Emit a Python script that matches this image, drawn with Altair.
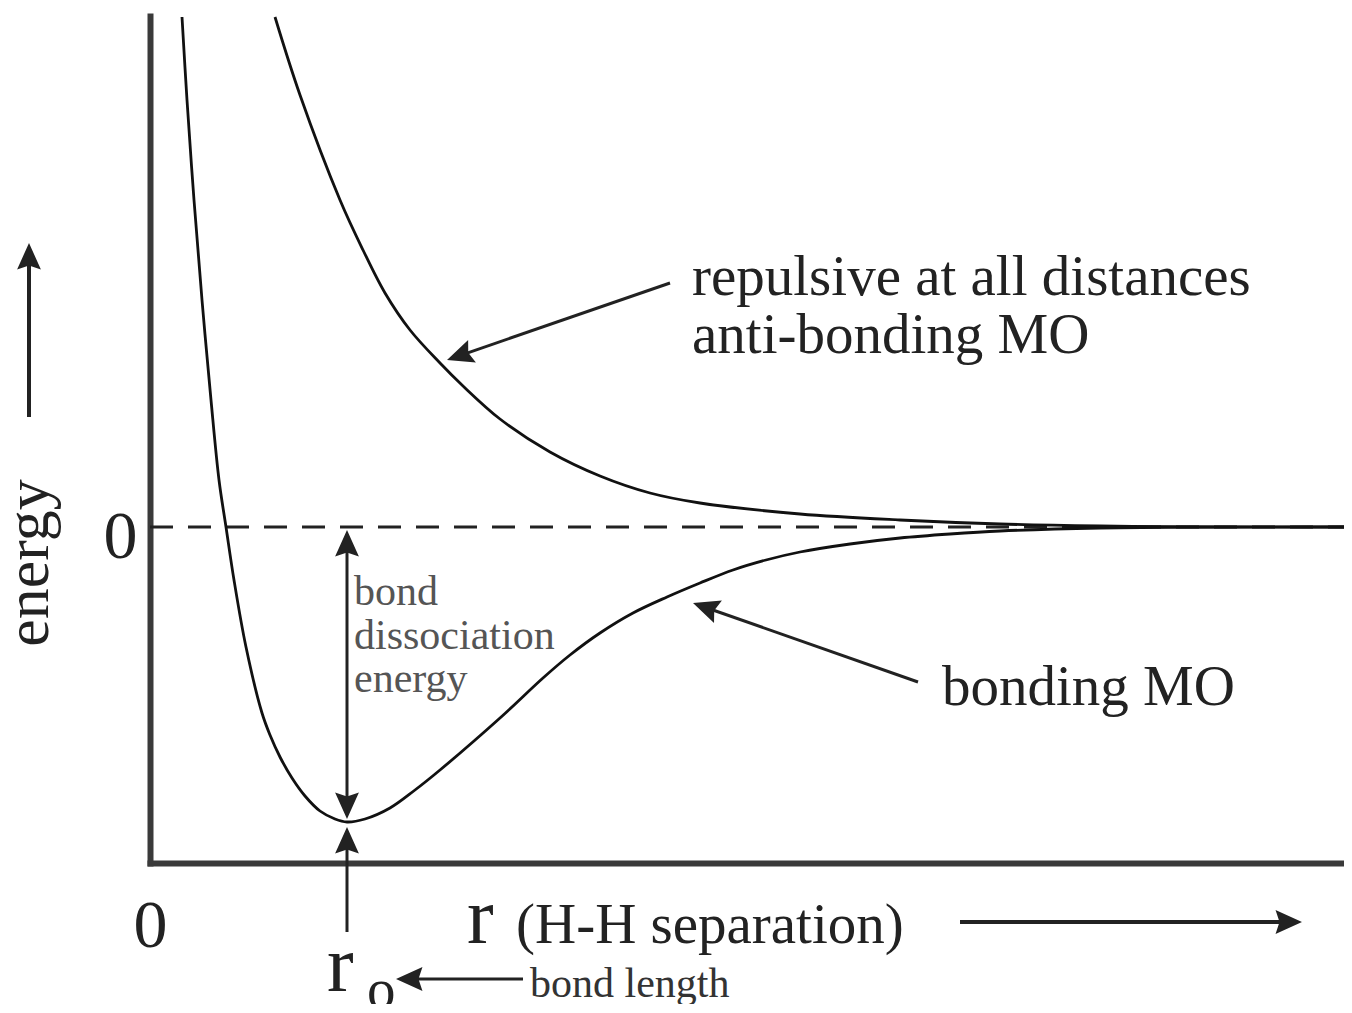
import math
import altair as alt
import pandas as pd

# ---- data (r and energy in arbitrary units) ----
bond_r = [0.32, 0.37, 0.44, 0.52, 0.61, 0.69, 0.76, 0.84, 0.96, 1.12, 1.20, 1.30, 1.42, 1.55, 1.70,
          1.85, 1.97, 2.15, 2.40, 2.65, 2.90, 3.50, 3.93, 4.20, 4.50, 4.83, 5.17, 5.50, 5.83, 6.16,
          6.50, 7.00, 7.50, 8.00, 8.50, 9.50, 10.5, 11.94]
bond_E = [5.10, 4.27, 3.27, 2.27, 1.27, 0.47, 0.00, -0.53, -1.20, -1.86, -2.08, -2.30, -2.51, -2.69, -2.84,
          -2.92, -2.95, -2.92, -2.81, -2.63, -2.43, -1.91, -1.51, -1.28, -1.06, -0.86, -0.70, -0.56, -0.43, -0.33,
          -0.25, -0.17, -0.11, -0.07, -0.04, -0.01, 0.0, 0.0]
anti_r = [1.25, 1.50, 1.90, 2.13, 2.35, 2.60, 2.90, 3.13, 3.50, 4.00, 4.50, 5.00, 5.50, 6.50, 7.50,
          8.50, 9.50, 10.5, 11.94]
anti_E = [5.10, 4.32, 3.27, 2.77, 2.34, 1.97, 1.64, 1.41, 1.08, 0.75, 0.51, 0.34, 0.24, 0.13, 0.07,
          0.03, 0.01, 0.0, 0.0]

# tick labels
x_ticks = [0]
y_ticks = [0]

# annotation texts
txt = ["repulsive at all distances", "anti-bonding MO", "bonding MO",
       "bond", "dissociation", "energy",
       "r", "(H-H separation)", "r", "o", "bond length"]
txt_r = [5.42, 5.42, 7.92, 2.04, 2.04, 2.04, 3.17, 3.66, 1.77, 2.17, 3.80]
txt_E = [2.32, 1.74, -1.78, -0.78, -1.22, -1.65, -4.16, -4.16, -4.64, -4.81, -4.70]
txt_size = [57, 57, 57, 42, 42, 42, 80, 57, 80, 57, 42]
txt_color = ["#222", "#222", "#222", "#555", "#555", "#555", "#222", "#222", "#222", "#222", "#333"]

# arrows: tail -> tip
arr_r0 = [5.20, 7.68, 1.97, 1.97, 1.97, 3.73, -1.21, 8.10]
arr_E0 = [2.44, -1.55, -1.50, -1.50, -4.05, -4.52, 1.10, -3.95]
arr_r1 = [2.97, 5.43, 1.97, 1.97, 1.97, 2.46, -1.21, 11.52]
arr_E1 = [1.67, -0.76, -0.03, -2.92, -3.00, -4.52, 2.84, -3.95]
arr_w = [3, 3, 3, 3, 3, 3, 4, 4]

X_DOM = [0, 11.94]
Y_DOM = [-3.36, 5.11]

curves = pd.concat([
    pd.DataFrame({"r": bond_r, "E": bond_E, "curve": "bonding"}),
    pd.DataFrame({"r": anti_r, "E": anti_E, "curve": "antibonding"}),
])
texts = pd.DataFrame({"t": txt, "r": txt_r, "E": txt_E, "fs": txt_size, "c": txt_color})

rows = []
for r0, e0, r1, e1, w in zip(arr_r0, arr_E0, arr_r1, arr_E1, arr_w):
    dr, de = r1 - r0, e1 - e0
    L = math.hypot(dr, de)
    rows.append({"r": r0, "E": e0,
                 "r2": r1 - 0.12 * dr / L, "E2": e1 - 0.12 * de / L,
                 "tr": r1, "tE": e1, "w": w,
                 "ang": math.degrees(math.atan2(dr, de)) % 360})
arrows = pd.DataFrame(rows)

xs = alt.Scale(domain=X_DOM, nice=False, zero=False)
ys = alt.Scale(domain=Y_DOM, nice=False, zero=False)
serif = "Liberation Serif"

X = alt.X("r:Q", scale=xs, axis=alt.Axis(
    values=x_ticks, format="d", title=None, grid=False, ticks=False, tickSize=0,
    domainColor="#3a3a3a", domainWidth=6, domainCap="square",
    labelFont=serif, labelFontSize=68, labelColor="#222",
    labelBaseline="alphabetic", labelPadding=83, labelAlign="center"))
Y = alt.Y("E:Q", scale=ys, axis=alt.Axis(
    values=y_ticks, format="d", title=None, grid=False, ticks=False, tickSize=0,
    domainColor="#3a3a3a", domainWidth=6, domainCap="square",
    labelFont=serif, labelFontSize=68, labelColor="#222",
    labelBaseline="alphabetic", labelOffset=30, labelPadding=13))

zero_df = pd.DataFrame({"r": [X_DOM[0]], "r2": [X_DOM[1]], "E": [0.0]})
zero = alt.Chart(zero_df).mark_rule(strokeDash=[23, 15], strokeWidth=3, color="#222").encode(
    x=X, x2="r2:Q", y=Y)

lines = alt.Chart(curves).mark_line(interpolate="catmull-rom", strokeWidth=2.8, color="#111", clip=True).encode(
    x=X, y=Y, detail="curve:N")

shafts = alt.Chart(arrows).mark_rule(color="#222").encode(
    x=X, y=Y, x2="r2:Q", y2="E2:Q", strokeWidth=alt.StrokeWidth("w:Q", scale=None))

heads = alt.Chart(arrows).mark_point(
    shape="M0,0L0.45,1L0,0.85L-0.45,1Z", filled=True, opacity=1, size=2800, color="#222", strokeWidth=0
).encode(
    x=alt.X("tr:Q", scale=xs), y=alt.Y("tE:Q", scale=ys),
    angle=alt.Angle("ang:Q", scale=None))

labels = alt.Chart(texts).mark_text(font=serif, align="left", baseline="alphabetic").encode(
    x=X, y=Y, text="t:N",
    size=alt.Size("fs:Q", scale=None),
    color=alt.Color("c:N", scale=None))

ylab_df = pd.DataFrame({"r": [-1.02], "E": [-0.36], "t": ["energy"]})
ylab = alt.Chart(ylab_df).mark_text(font=serif, fontSize=62, angle=270, align="center",
                                     baseline="alphabetic", color="#222").encode(
    x=X, y=Y, text="t:N")

chart = alt.layer(zero, lines, shafts, heads, labels, ylab).properties(
    width=1194, height=847,
    background="white",
    autosize=alt.AutoSizeParams(type="none"),
    padding={"left": 142, "top": 8, "right": 0, "bottom": 141},
).configure_view(strokeWidth=0, stroke="transparent")

chart.save("out.html", embed_options={"renderer": "svg", "actions": False})
